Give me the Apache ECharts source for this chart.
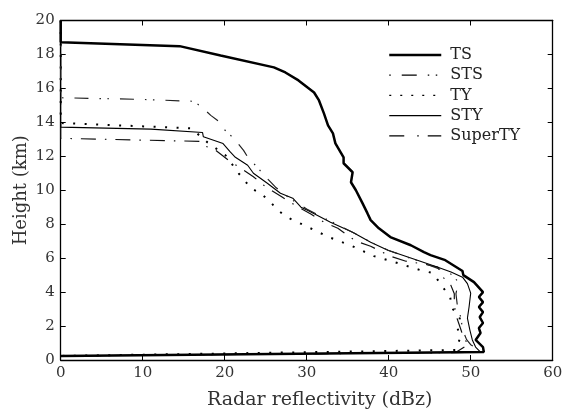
<!DOCTYPE html>
<html><head><meta charset="utf-8">
<script src="https://cdn.jsdelivr.net/npm/echarts@6/dist/echarts.min.js"></script>
<style>html,body{margin:0;padding:0;background:#fff}#c{width:565px;height:409px}</style>
</head><body><div id="c"></div>
<script>
var seriesNames = ['TS','STS','TY','STY','SuperTY'];
var xTicks = [0,10,20,30,40,50,60];
var yTicks = [0,2,4,6,8,10,12,14,16,18,20];

var tsDbz = [0,0,14.5,19.5,26,27.4,29,30.9,31.5,32.1,32.6,33.2,33.5,34.5,34.5,35.6,35.4,36.0,36.8,37.4,37.8,38.8,40.2,42.7,44.3,45.1,46.9,49.0,49.1,50.4,51.5,51.0,51.5,51.0,51.5,51.1,51.5,51.0,51.2,50.6,51.5,51.6,0];
var tsHeight = [20,18.72,18.49,17.94,17.24,16.94,16.47,15.76,15.29,14.53,13.82,13.35,12.76,11.94,11.59,11.06,10.47,10.0,9.24,8.65,8.24,7.76,7.24,6.76,6.35,6.18,5.88,5.24,5.0,4.59,4.0,3.71,3.41,3.12,2.82,2.53,2.18,1.88,1.59,1.18,0.76,0.47,0.24];

var stsDbz = [0,0,10,16.2,17.1,18.3,19.1,19.8,21.1,22.3,22.9,24.0,24.8,26.2,28,30,33,35.7,38,40,43.5,46,47.5,48.5,48.2,48.4,48.8,49,49.5,50,51.6,0];
var stsHeight = [20,15.45,15.35,15.24,14.94,14.41,14.12,13.65,13.06,12.35,11.88,11.35,10.88,10.18,9.5,8.9,8.15,7.5,6.9,6.45,5.85,5.4,5.1,4.6,3.9,3.1,2.5,1.8,1.2,0.9,0.45,0.24];

var tyDbz = [0,0,15.9,17.9,20.1,21.7,23.2,24.4,25.6,26.5,27.6,28.9,30.2,32.7,35.6,38.2,41.1,43.9,45.4,46.6,47.5,47.7,48.7,48.4,48.7,48.2,0];
var tyHeight = [20,13.96,13.65,12.82,12.06,11.0,10.12,9.82,9.29,8.82,8.41,8.12,7.82,7.24,6.7,6.12,5.71,5.29,5.12,4.29,3.7,3.06,2.53,1.88,1.29,0.59,0.24];

var styDbz = [0,0,11,17.3,17.4,19.8,20.7,21.3,22.8,23.5,25.2,26.8,28.3,29.3,30.1,32.9,35.6,37.8,39.9,43.5,46,47.6,49,49.6,50,49.8,49.6,49.9,50.2,50.6,51.2,0];
var styHeight = [20,13.72,13.6,13.4,13.15,12.75,12.24,11.94,11.47,11.0,10.41,9.82,9.53,9.0,8.82,8.12,7.53,6.94,6.47,5.88,5.47,5.18,4.88,4.5,3.94,3.12,2.47,1.76,1.18,0.76,0.47,0.24];

var superDbz = [0,0,17,17.4,18.9,20.5,22,23.5,25,27,29,30.5,32.1,33.8,36,37.8,40.2,42.1,44.3,46,46.6,47.5,48,48,48.3,48.8,49.2,49.8,48.2,0];
var superHeight = [20,13.06,12.88,12.65,12.35,11.76,11.29,10.8,10.2,9.6,9.0,8.6,8.12,7.76,7.0,6.7,6.12,5.82,5.65,5.47,4.88,4.5,3.9,3.2,2.5,1.8,1.2,0.95,0.45,0.24];

function pairs(xs, ys){ return xs.map(function(v,i){ return [v, ys[i]]; }); }

var font = 'DejaVu Serif';
var chart = echarts.init(document.getElementById('c'), null, {renderer:'canvas'});

var styles = [
  {width:2.5, type:'solid', color:'#000'},
  {width:1.2, type:[14,11,1.5,6.5,1.5,11], color:'#222'},
  {width:2, type:[2,9.5], color:'#000'},
  {width:1.1, type:'solid', color:'#000'},
  {width:1.2, type:[15,9,1.5,9], color:'#111'}
];
var legendDash = [
  'solid',
  [1.5,11,15,11,1.5,6.5],
  [2,9],
  'solid',
  [15,13,1.5,9]
];
var dataSets = [pairs(tsDbz,tsHeight), pairs(stsDbz,stsHeight), pairs(tyDbz,tyHeight), pairs(styDbz,styHeight), pairs(superDbz,superHeight)];

var series = seriesNames.map(function(n,i){
  return {
    name:n, type:'line', data:dataSets[i], showSymbol:false, symbol:'none',
    lineStyle:{width:styles[i].width, type:styles[i].type, color:styles[i].color},
    itemStyle:{color:styles[i].color},
    animation:false, z: 10-i
  };
});

var tickStyle = {show:true, inside:true, length:5, lineStyle:{color:'#000', width:1}};
var lineStyle = {show:true, onZero:false, lineStyle:{color:'#000', width:1.3}};

chart.setOption({
  backgroundColor:'#fff',
  animation:false,
  grid:{left:60.7, right:12.3, top:20.5, bottom:49, containLabel:false, outerBoundsMode:'none'},
  legend:{
    orient:'vertical', left:388, top:47, itemWidth:52, itemHeight:14, itemGap:4.2,
    padding:0,
    itemStyle:{opacity:0},
    textStyle:{fontFamily:font, fontSize:16, color:'#222', padding:[0,0,0,4]},
    data: seriesNames.map(function(n,i){
      return {name:n, itemStyle:{opacity:0}, lineStyle:{width:i===0?2.5:1.3, type:legendDash[i], color:'#000', opacity:1}};
    })
  },
  xAxis:[{
    type:'value', min:xTicks[0], max:xTicks[xTicks.length-1], interval:10,
    name:'Radar reflectivity (dBz)', nameLocation:'middle', nameGap:31,
    nameTextStyle:{fontFamily:font, fontSize:19, color:'#333', padding:[0,0,0,26]},
    axisLine:lineStyle, axisTick:tickStyle,
    axisLabel:{fontFamily:font, fontSize:15, color:'#333', margin:6},
    splitLine:{show:false}
  },{
    type:'value', position:'top', min:xTicks[0], max:xTicks[xTicks.length-1], interval:10,
    axisLine:lineStyle, axisTick:tickStyle, axisLabel:{show:false}, splitLine:{show:false}
  }],
  yAxis:[{
    type:'value', min:yTicks[0], max:yTicks[yTicks.length-1], interval:2,
    name:'Height (km)', nameLocation:'middle', nameGap:30, nameRotate:90, nameMoveOverlap:false,
    nameTextStyle:{fontFamily:font, fontSize:18, color:'#333'},
    axisLine:lineStyle, axisTick:tickStyle,
    axisLabel:{fontFamily:font, fontSize:15, color:'#333', margin:6},
    splitLine:{show:false}
  },{
    type:'value', position:'right', min:yTicks[0], max:yTicks[yTicks.length-1], interval:2,
    axisLine:lineStyle, axisTick:tickStyle, axisLabel:{show:false}, splitLine:{show:false}
  }],
  series: series
});
</script></body></html>
